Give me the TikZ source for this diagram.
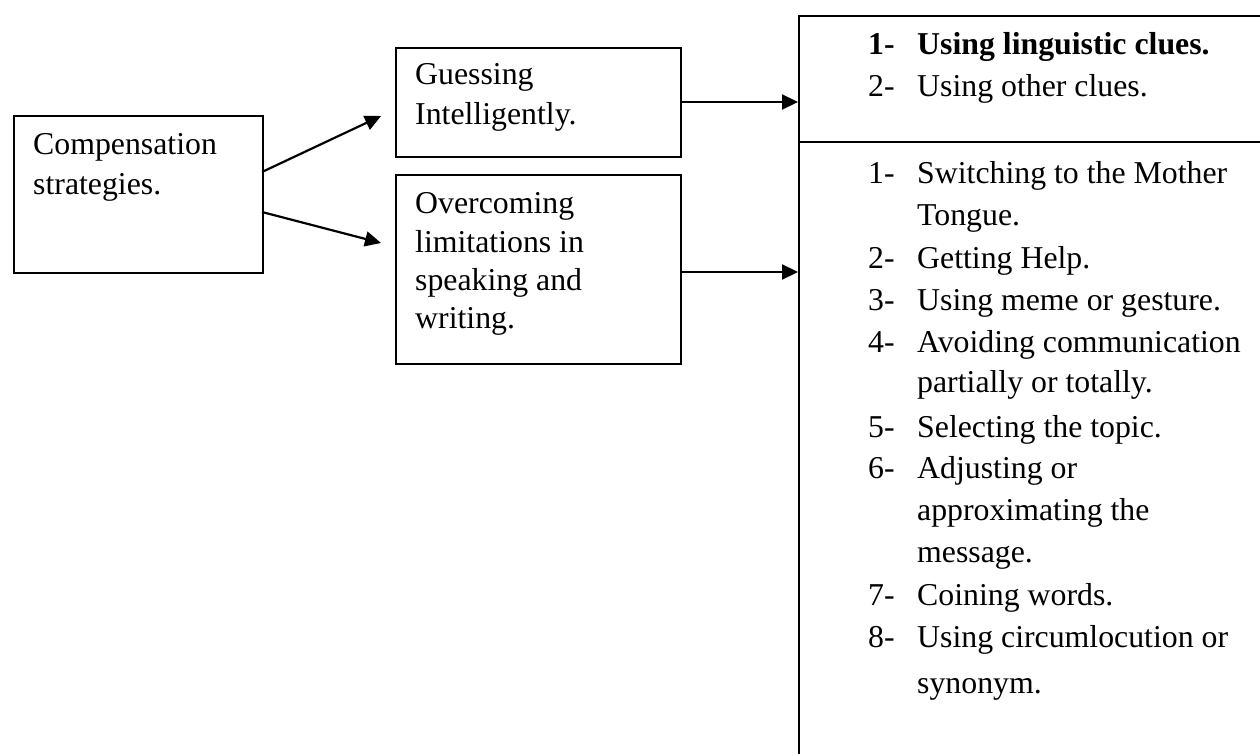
\documentclass[tikz,border=0pt]{standalone}
\usepackage{fontspec}
\setmainfont{Liberation Serif}
\usetikzlibrary{arrows.meta}
\begin{document}
\begin{tikzpicture}[x=1pt,y=-1pt,
  box/.style={draw, line width=1.8pt, inner sep=0pt, anchor=north west},
  txt/.style={anchor=base west, inner sep=0pt, font=\fontsize{31.8}{38}\selectfont},
  conn/.style={line width=2.2pt, -{Triangle[length=16pt,width=15pt]}}]
\useasboundingbox (0,0) rectangle (1260,754);
\clip (0,0) rectangle (1260,754);
% boxes
\node[box, minimum width=249pt, minimum height=157pt] (comp) at (13,115) {};
\node[box, minimum width=285pt, minimum height=109pt] (guess) at (395,47) {};
\node[box, minimum width=285pt, minimum height=189pt] (over) at (395,174) {};
\node[box, minimum width=600pt, minimum height=800pt] (right) at (798,15) {};
\coordinate (divL) at (798,142);
\coordinate (divR) at (1270,142);
\draw[line width=1.8pt] (divL) -- (divR);
% connectors
\coordinate (c1) at (262,172);
\coordinate (c2) at (262,212);
\coordinate (t1) at (381,116);
\coordinate (t2) at (381,243);
\draw[conn] (c1) -- (t1);
\draw[conn] (c2) -- (t2);
\coordinate (g1) at (680,102);
\coordinate (g2) at (798,102);
\coordinate (o1) at (680,272);
\coordinate (o2) at (798,272);
\draw[conn] (g1) -- (g2);
\draw[conn] (o1) -- (o2);
% texts
\node[txt] (ct1) at (33,155) {Compensation};
\node[txt] (ct2) at (33,195) {strategies.};
\node[txt] (gt1) at (415,85) {Guessing};
\node[txt] (gt2) at (415,125) {Intelligently.};
\node[txt] (ot1) at (415,213) {Overcoming};
\node[txt] (ot2) at (415,252) {limitations in};
\node[txt] (ot3) at (415,290) {speaking and};
\node[txt] (ot4) at (415,328) {writing.};
% right list, top section
\node[txt,font=\fontsize{31.8}{38}\selectfont\bfseries] (n1) at (868,55) {1-};
\node[txt,font=\fontsize{31.8}{38}\selectfont\bfseries] (a1) at (917,55) {Using linguistic clues.};
\node[txt] (n2) at (868,97) {2-};
\node[txt] (a2) at (917,97) {Using other clues.};
% right list, bottom section
\node[txt] (m1) at (868,183) {1-};
\node[txt] (b1) at (917,183) {Switching to the Mother};
\node[txt] (b1b) at (917,225) {Tongue.};
\node[txt] (m2) at (868,268) {2-};
\node[txt] (b2) at (917,268) {Getting Help.};
\node[txt] (m3) at (868,310) {3-};
\node[txt] (b3) at (917,310) {Using meme or gesture.};
\node[txt] (m4) at (868,352) {4-};
\node[txt] (b4) at (917,352) {Avoiding communication};
\node[txt] (b4b) at (917,392) {partially or totally.};
\node[txt] (m5) at (868,437) {5-};
\node[txt] (b5) at (917,437) {Selecting the topic.};
\node[txt] (m6) at (868,478) {6-};
\node[txt] (b6) at (917,478) {Adjusting or};
\node[txt] (b6b) at (917,520) {approximating the};
\node[txt] (b6c) at (917,562) {message.};
\node[txt] (m7) at (868,605) {7-};
\node[txt] (b7) at (917,605) {Coining words.};
\node[txt] (m8) at (868,647) {8-};
\node[txt] (b8) at (917,647) {Using circumlocution or};
\node[txt] (b8b) at (917,693) {synonym.};
\end{tikzpicture}
\end{document}
